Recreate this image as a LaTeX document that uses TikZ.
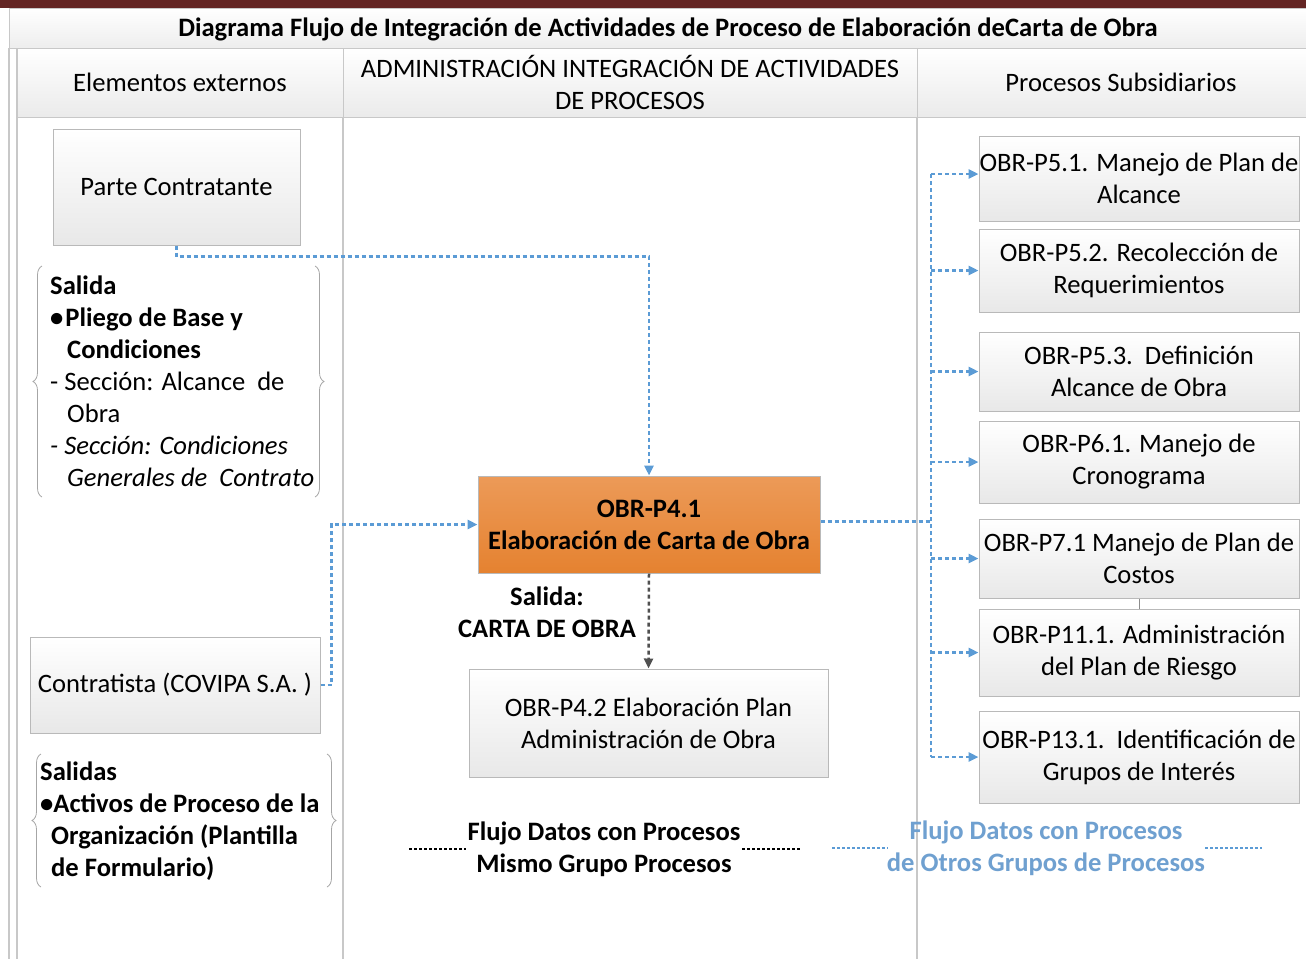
\documentclass[tikz,border=0pt]{standalone}
\usepackage{fontspec}
\setmainfont{Carlito}
\usetikzlibrary{arrows.meta,decorations.pathreplacing,calc}
\definecolor{flowblue}{RGB}{91,155,213}
\definecolor{legblue}{RGB}{111,160,208}
\definecolor{bordergray}{RGB}{185,185,185}
\definecolor{lanegray}{RGB}{200,200,200}
\definecolor{darkred}{RGB}{99,37,35}
\definecolor{orTop}{RGB}{236,154,88}
\definecolor{orBot}{RGB}{229,130,48}
\definecolor{flowdark}{RGB}{80,80,80}
\begin{document}
\begin{tikzpicture}[x=1pt,y=-1pt,
  txt/.style={font=\fontsize{26.6}{32}\selectfont},
  procbox/.style={draw=bordergray, line width=1pt, top color=white, bottom color=black!9, align=center, inner sep=0pt, txt},
  mainbox/.style={draw=bordergray, line width=1pt, top color=orTop, bottom color=orBot, align=center, inner sep=0pt, font=\fontsize{26.6}{32}\selectfont\bfseries},
  blockbrace/.style={draw=black!35, line width=0.8pt, decorate, decoration={brace, amplitude=9pt, aspect=0.5}},
  blueflow/.style={draw=flowblue, line width=2.5pt, dash pattern=on 4pt off 3pt},
  blueflowarrow/.style={blueflow, -{Triangle[length=10pt,width=9pt]}},
  darkflowarrow/.style={draw=flowdark, line width=2.5pt, dash pattern=on 4pt off 3pt, -{Triangle[length=10pt,width=9pt]}},
  lane/.style={draw=lanegray, line width=1.2pt},
  headtxt/.style={font=\fontsize{26.6}{32}\selectfont, align=center, inner sep=0pt},
  legdash/.style={line width=2.5pt, dash pattern=on 3pt off 2pt},
]
\useasboundingbox (0,0) rectangle (1306,959);
% top bar and title
\fill[darkred] (0,0) rectangle (1306,8);
\path[draw=lanegray, line width=1pt, top color=white, bottom color=black!7] (9,8) rectangle (1310,48);
\node[font=\fontsize{26.6}{30}\selectfont\bfseries, inner sep=0pt] (title) at (668,29) {Diagrama Flujo de Integración de Actividades de Proceso de Elaboración deCarta de Obra};
% header row
\path[draw=lanegray, line width=1pt, top color=white, bottom color=black!8] (17,48) rectangle (343,117);
\path[draw=lanegray, line width=1pt, top color=white, bottom color=black!8] (343,48) rectangle (917,117);
\path[draw=lanegray, line width=1pt, top color=white, bottom color=black!8] (917,48) rectangle (1310,117);
\node[headtxt] (h1) at (180,82) {Elementos externos};
\node[headtxt] (h2) at (630,82) {ADMINISTRACIÓN INTEGRACIÓN DE ACTIVIDADES\\DE PROCESOS};
\node[headtxt] (h3) at (1121,82) {Procesos Subsidiarios};
% lanes
\draw[lane] (9,48) -- (9,959);
\draw[lane] (17,48) -- (17,959);
\draw[lane] (343,117) -- (343,959);
\draw[lane] (917,117) -- (917,959);
% left column
\node[procbox, minimum width=247pt, minimum height=116pt] (pc) at (176.5,187) {Parte Contratante};
\node[procbox, minimum width=290pt, minimum height=96pt] (ct) at (175,685) {Contratista (COVIPA S.A. )};
\draw[blockbrace] (42,497) -- (42,266);
\draw[blockbrace] (315,266) -- (315,497);
\node[txt, align=left, anchor=north west, inner sep=0pt] (b1) at (50,276) {\textbf{Salida}\\
\textbf{•\hspace{2pt}Pliego de Base y}\\
\hspace*{17pt}\textbf{Condiciones}\\
- Sección: Alcance\ \ de\\
\hspace*{17pt}Obra\\
\textit{- Sección: Condiciones}\\
\hspace*{17pt}\textit{Generales de\ \ Contrato}};
\draw[blockbrace] (41,887) -- (41,754);
\draw[blockbrace] (327,754) -- (327,887);
\node[align=left, anchor=north west, inner sep=0pt, font=\fontsize{26.6}{32}\selectfont\bfseries] (b2) at (40,762) {Salidas\\
•Activos de Proceso de la\\
\hspace*{11pt}Organización (Plantilla\\
\hspace*{11pt}de Formulario)};
% center
\node[mainbox, minimum width=342pt, minimum height=97pt] (cb) at (649,524.5) {OBR-P4.1\\Elaboración de Carta de Obra};
\node[procbox, minimum width=359pt, minimum height=108pt] (p42) at (648.5,723) {OBR-P4.2 Elaboración Plan\\Administración de Obra};
\node[font=\fontsize{26.6}{32}\selectfont\bfseries, align=center, inner sep=0pt] (sal) at (547,612) {Salida:\\CARTA DE OBRA};
% right column
\node[procbox, minimum width=320pt, minimum height=85pt] (r1) at (1139,178.5) {OBR-P5.1. Manejo de Plan de\\Alcance};
\node[procbox, minimum width=320pt, minimum height=83pt] (r2) at (1139,270.5) {OBR-P5.2. Recolección de\\Requerimientos};
\node[procbox, minimum width=320pt, minimum height=79pt] (r3) at (1139,371.5) {OBR-P5.3.\ \ Definición\\Alcance de Obra};
\node[procbox, minimum width=320pt, minimum height=82pt] (r4) at (1139,462) {OBR-P6.1. Manejo de\\Cronograma};
\node[procbox, minimum width=320pt, minimum height=79pt] (r5) at (1139,558.5) {OBR-P7.1 Manejo de Plan de\\Costos};
\node[procbox, minimum width=320pt, minimum height=87pt] (r6) at (1139,652.5) {OBR-P11.1. Administración\\del Plan de Riesgo};
\node[procbox, minimum width=320pt, minimum height=92pt] (r7) at (1139,757) {OBR-P13.1.\ \ Identificación de\\Grupos de Interés};
\draw[draw=black!45, line width=1pt] (r5.south) -- (r6.north);
% connectors
\draw[blueflowarrow] (pc.south) -- ++(0,11) -| (cb.north);
\draw[blueflowarrow] (ct.east) -- ++(11,0) |- (cb.west);
\draw[darkflowarrow] (cb.south) -- (p42.north);
\coordinate (bt) at (931,174);
\coordinate (bb) at (931,757);
\draw[blueflow] (bt) -- (bb);
\draw[blueflow] ([yshift=3pt]cb.east) -- ([yshift=3pt]cb.east -| bt);
\draw[blueflowarrow] (bt) -- (bt -| r1.west);
\foreach \r in {r2,r3,r4,r5,r6,r7} {
  \draw[blueflowarrow] (bt |- \r.west) -- (\r.west);
}
% legend
\node[font=\fontsize{26.6}{32}\selectfont\bfseries, align=center, inner sep=0pt] (lg1) at (604,849) {Flujo Datos con Procesos\\Mismo Grupo Procesos};
\node[font=\fontsize{26.6}{32}\selectfont\bfseries, align=center, inner sep=0pt, text=legblue] (lg2) at (1046,848) {Flujo Datos con Procesos\\de Otros Grupos de Procesos};
\coordinate (l1a) at (409,849); \coordinate (l1b) at (466,849);
\coordinate (l1c) at (742,849); \coordinate (l1d) at (800,849);
\coordinate (l2a) at (832,848); \coordinate (l2b) at (888,848);
\coordinate (l2c) at (1205,848); \coordinate (l2d) at (1262,848);
\draw[black, legdash] (l1a) -- (l1b);
\draw[black, legdash] (l1c) -- (l1d);
\draw[flowblue, legdash] (l2a) -- (l2b);
\draw[flowblue, legdash] (l2c) -- (l2d);
\end{tikzpicture}
\end{document}
